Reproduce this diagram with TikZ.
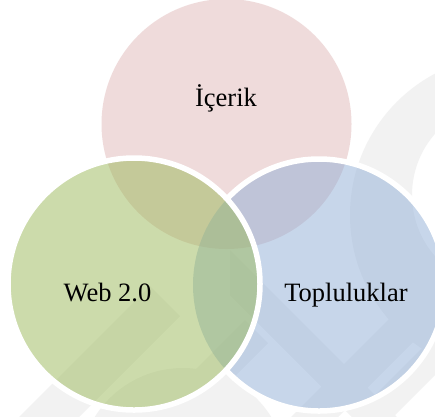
\documentclass[tikz,border=0pt]{standalone}
\usepackage{fontspec}
\setmainfont{Liberation Serif}
\definecolor{pinkbase}{RGB}{225,185,185}
\definecolor{bluebase}{RGB}{145,175,215}
\definecolor{greenbase}{RGB}{155,185,89}
\definecolor{markgray}{RGB}{242,242,242}
\tikzset{
  vennfill/.style={fill opacity=0.5},
  vennrim/.style={draw=white, line width=5.5pt},
  venntext/.style={font=\fontsize{26.5}{30}\selectfont, text=black, inner sep=0pt, anchor=base},
  emblem/.style={fill=markgray}
}
\begin{document}
\begin{tikzpicture}[x=1pt,y=-1pt]
\useasboundingbox (0,0) rectangle (435,416);
\fill[white] (0,0) rectangle (435,416);

% faint background emblem
\begin{scope}
  \clip (0,0) rectangle (435,416);
  % crescent on the right
  \fill[emblem, even odd rule] (510,215) circle (160) (505,195) circle (93);
  % arc at the bottom
  \fill[emblem] (183,472) circle (104);
  % diagonal bands in the lower part
  \fill[emblem] (0,436) -- (150,286) -- (180,316) -- (30,466) -- cycle;
  \fill[emblem] (95,470) -- (245,320) -- (268,343) -- (118,493) -- cycle;
  \fill[emblem] (230,250) -- (450,470) -- (450,515) -- (230,295) -- cycle;
  \fill[emblem] (260,448) -- (450,258) -- (450,305) -- (260,495) -- cycle;
  \fill[emblem] (300,470) -- (450,320) -- (450,360) -- (340,470) -- cycle;
\end{scope}

% circle fills
\fill[pinkbase, vennfill] (226.5,124) circle (125);
\fill[bluebase, vennfill] (319,285) circle (126);

% rim of the right circle, hidden where the left circle lies over it
\begin{scope}[even odd rule]
  \clip (-20,-20) rectangle (460,440) (134,284) circle (126);
  \draw[vennrim] (319,285) circle (126);
\end{scope}

\fill[greenbase, vennfill] (134,284) circle (126);
\draw[vennrim] (134,284) circle (126);

% labels
\node[venntext] (c) at (226,106) {İçerik};
\node[venntext] (w) at (107.5,301) {Web 2.0};
\node[venntext] (t) at (346,301) {Topluluklar};
\end{tikzpicture}
\end{document}
